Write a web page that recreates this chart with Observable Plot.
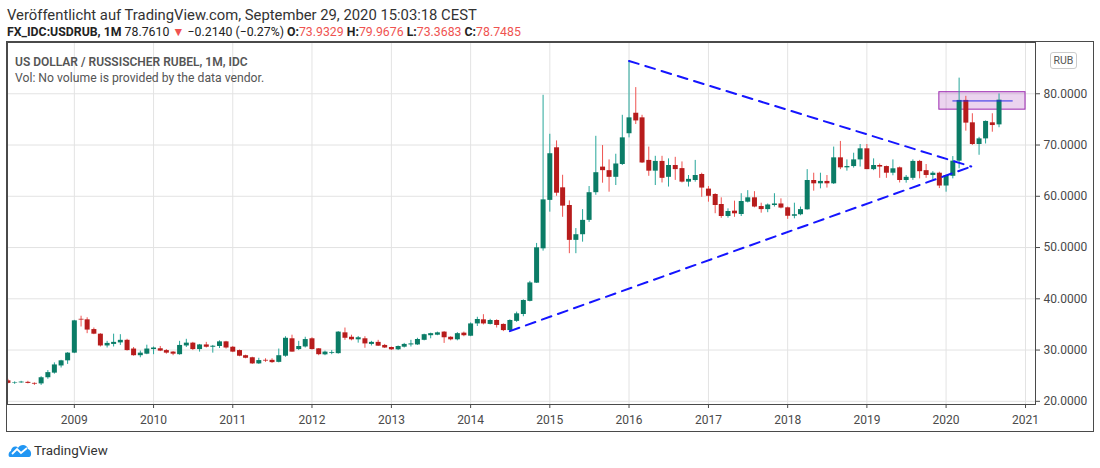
<!DOCTYPE html>
<html>
<head>
<meta charset="utf-8">
<script src="https://cdn.jsdelivr.net/npm/d3@7"></script>
<script src="https://cdn.jsdelivr.net/npm/@observablehq/plot@0.6"></script>
<style>
  body { margin: 0; background: #fff; width: 1100px; height: 468px; position: relative; overflow: hidden;
         font-family: Roboto, "Liberation Sans", sans-serif; color: #333; }
  .abs { position: absolute; white-space: nowrap; }
  #l1 { left: 7px; top: 6px; font-size: 14.8px; line-height: 18px; color: #333; }
  #l2 { left: 7px; top: 23px; font-size: 12.3px; line-height: 18px; color: #222; }
  #l2 b { font-weight: 700; }
  #l2 .r { color: #ef5350; }
  #chart { left: 6px; top: 41px; width: 1086px; height: 389px; border: 1px solid #4a4a4a; }
  #t1 { left: 15px; top: 54px; font-size: 12px; line-height: 16px; color: #555; font-weight: 600; }
  #t2 { left: 15px; top: 70px; font-size: 12.2px; line-height: 16px; color: #555; }
  #rub { left: 1050px; top: 52px; width: 25px; height: 15px; border: 1px solid #ccc; border-radius: 3px;
         font-size: 10.5px; line-height: 15px; text-align: center; color: #555; background: #fff; }
  #logo { left: 8px; top: 440px; height: 20px; display: flex; align-items: center; gap: 2px; }
  #logo span { font-size: 13.4px; color: #333; }
</style>
</head>
<body>
<div id="l1" class="abs">Veröffentlicht auf TradingView.com, September 29, 2020 15:03:18 CEST</div>
<div id="l2" class="abs"><b>FX_IDC:USDRUB, 1M</b> 78.7610 <span class="r">▼</span> −0.2140 (−0.27%) <b>O:</b><span class="r">73.9329</span> <b>H:</b><span class="r">79.9676</span> <b>L:</b><span class="r">73.3683</span> <b>C:</b><span class="r">78.7485</span></div>
<div id="chart" class="abs"></div>
<div id="t1" class="abs">US DOLLAR / RUSSISCHER RUBEL, 1M, IDC</div>
<div id="t2" class="abs">Vol: No volume is provided by the data vendor.</div>
<div id="rub" class="abs">RUB</div>
<div id="logo" class="abs">
  <svg width="24" height="16" viewBox="0 0 24 16">
    <path d="M2 15 C0 15 0 10 3 9 C3 5 8 3 10 6 C12 2 19 2 20 7 C24 8 24 15 21 15 Z" fill="#2196f3"/>
    <path d="M4 12 L9 7 L13 11 L19 6" stroke="#fff" stroke-width="1.8" fill="none"/>
  </svg>
  <span>TradingView</span>
</div>
<script>
// monthly candles, first bar = March 2008
const firstMonth = "2008-03-01";

const open = [
  24.0, 23.5, 23.6, 23.7, 23.5, 23.4, 24.6, 25.5, 26.9, 27.9,
  29.4, 36.0, 35.9, 34.0, 33.1, 30.8, 31.1, 31.4, 31.9, 30.2, 28.9, 29.2,
  30.1, 30.25, 29.9, 29.6, 29.1, 30.8, 31.35, 30.1, 31.0, 30.55, 30.7, 31.6,
  30.55, 29.9, 28.9, 28.5, 27.3, 28.0, 28.0, 27.6, 28.8, 32.2, 30.1, 30.6,
  32.2, 30.24, 29.07, 29.35, 29.3, 33.36, 32.5, 32.0, 32.2, 31.1, 31.5, 30.9,
  30.5, 30.05, 30.56, 31.0, 31.0, 31.9, 32.8, 32.9, 33.5, 32.5, 32.0, 33.3,
  32.7, 35.1, 35.9, 35.0, 35.77, 35.0, 33.8, 35.6, 36.94, 39.5, 43.05, 49.75,
  59.2, 69.46, 61.65, 58.2, 51.4, 52.5, 55.3, 60.7, 65.69, 65.0, 63.7, 66.2,
  72.2, 76.2, 75.3, 67.0, 64.9, 66.8, 63.7, 66.0, 65.4, 62.76, 63.08, 64.25,
  61.4, 60.35, 58.4, 56.06, 57.1, 56.45, 58.85, 59.7, 58.0, 57.4, 58.2, 58.5,
  57.75, 56.1, 56.4, 57.36, 63.08, 62.43, 62.9, 62.43, 67.5, 65.55, 65.8, 67.1,
  69.26, 65.2, 66.0, 65.8, 64.5, 65.55, 63.08, 63.5, 66.8, 65.0, 64.06, 64.5,
  62.0, 63.9, 66.85, 78.7, 74.33, 70.1, 71.2, 74.33, 73.93
];
const high = [
  24.3, 23.8, 23.9, 23.9, 23.6, 24.8, 26.0, 27.5, 28.0, 29.5,
  35.8, 36.6, 36.3, 34.3, 33.2, 31.7, 33.1, 33.0, 32.1, 30.5, 29.8, 30.95,
  30.6, 30.7, 30.1, 29.7, 31.7, 32.1, 31.5, 31.1, 31.5, 30.9, 31.8, 31.7,
  30.7, 30.0, 29.0, 28.6, 28.4, 28.3, 28.3, 30.2, 32.6, 32.9, 31.7, 32.5,
  32.4, 30.3, 29.8, 29.9, 33.6, 34.3, 32.9, 32.65, 32.6, 31.7, 31.9, 31.1,
  30.6, 30.8, 31.3, 31.9, 32.3, 33.1, 33.3, 33.5, 33.6, 32.6, 33.4, 33.5,
  35.3, 36.4, 36.9, 36.0, 35.9, 35.1, 35.9, 37.4, 39.8, 43.4, 50.8, 79.7,
  72.1, 70.8, 64.1, 59.1, 53.7, 57.4, 61.9, 71.7, 69.9, 67.1, 68.2, 75.8,
  86.4, 81.2, 75.8, 69.6, 67.8, 67.8, 67.3, 67.6, 66.7, 64.05, 67.0, 64.5,
  61.9, 60.5, 59.7, 57.55, 59.05, 60.5, 61.1, 60.9, 58.65, 58.5, 60.5, 59.5,
  57.9, 58.65, 57.9, 65.2, 64.5, 64.5, 64.05, 69.6, 70.7, 67.1, 68.4, 70.1,
  70.1, 67.3, 66.3, 65.9, 67.1, 65.7, 64.05, 67.1, 67.0, 66.2, 64.8, 64.7,
  64.1, 67.75, 83.05, 79.5, 76.1, 71.5, 74.7, 76.1, 79.97
];
const low = [
  23.4, 23.3, 23.5, 23.4, 23.1, 23.1, 24.3, 25.3, 26.5, 27.2,
  29.3, 34.5, 33.2, 33.0, 30.6, 30.4, 30.6, 30.9, 29.8, 28.8, 28.5, 29.1,
  29.1, 29.7, 29.2, 28.9, 29.0, 30.5, 29.9, 29.6, 30.4, 29.4, 30.3, 30.2,
  29.5, 28.7, 28.3, 27.2, 27.2, 27.6, 27.4, 27.5, 28.6, 29.6, 29.9, 30.4,
  30.0, 28.9, 28.9, 29.1, 29.2, 31.9, 31.8, 31.35, 30.35, 30.8, 30.7, 30.3,
  29.9, 29.9, 30.4, 30.6, 30.9, 31.8, 32.2, 32.8, 31.3, 31.8, 31.8, 32.6,
  32.6, 34.6, 34.9, 34.9, 34.3, 33.6, 33.5, 35.4, 36.5, 39.4, 43.0, 49.3,
  56.9, 60.0, 55.9, 48.8, 48.8, 51.05, 54.9, 60.2, 62.55, 60.8, 62.1, 66.0,
  71.4, 74.0, 66.4, 63.9, 62.1, 62.6, 61.8, 63.1, 62.6, 61.8, 62.75, 59.8,
  58.85, 56.6, 55.7, 55.73, 55.9, 56.05, 58.7, 57.75, 56.7, 56.8, 57.9, 57.55,
  55.5, 55.6, 56.2, 57.3, 61.0, 61.45, 61.6, 62.3, 65.2, 64.9, 65.5, 65.7,
  65.2, 65.0, 63.5, 63.5, 64.0, 62.6, 62.56, 63.1, 63.4, 63.5, 63.2, 61.5,
  60.8, 63.4, 65.36, 72.7, 69.9, 68.0, 70.2, 72.5, 73.37
];
const close = [
  23.5, 23.6, 23.75, 23.5, 23.35, 24.6, 25.6, 27.1, 27.9, 29.4,
  35.7, 35.85, 33.9, 33.1, 30.8, 31.3, 31.5, 31.9, 29.9, 28.9, 29.4, 30.2,
  30.4, 29.8, 29.4, 29.2, 30.9, 31.35, 30.1, 31.0, 30.55, 30.75, 31.6, 30.4,
  29.6, 28.8, 28.4, 27.3, 27.95, 27.85, 27.55, 28.9, 32.3, 29.6, 30.7, 32.05,
  30.1, 29.1, 29.6, 29.5, 33.5, 32.3, 32.0, 32.4, 31.2, 31.5, 30.76, 30.4,
  30.05, 30.7, 31.1, 31.2, 32.06, 33.0, 33.2, 33.36, 32.4, 32.0, 33.2, 32.8,
  35.1, 35.96, 35.1, 35.77, 34.8, 33.8, 35.77, 37.07, 39.67, 43.1, 49.95, 59.3,
  68.3, 60.6, 58.08, 51.4, 52.5, 55.3, 60.7, 64.6, 65.0, 63.7, 66.3, 71.4,
  75.3, 74.7, 66.5, 64.9, 66.8, 63.5, 66.0, 65.2, 62.76, 63.3, 64.06, 61.6,
  60.0, 58.2, 56.06, 57.03, 56.58, 58.98, 59.7, 57.9, 57.4, 58.3, 58.5, 57.7,
  56.1, 56.4, 57.4, 63.08, 62.43, 62.9, 62.43, 67.5, 65.55, 65.8, 67.1, 69.26,
  65.2, 66.0, 65.7, 64.5, 65.36, 63.08, 63.7, 66.8, 64.8, 64.06, 64.5, 62.0,
  64.06, 66.85, 78.7, 74.27, 70.1, 71.2, 74.6, 73.8, 78.75
];

// price axis
const priceTicks = [20, 30, 40, 50, 60, 70, 80];

// drawings on the chart
const triangleUpper = [["2016-01-01", 86.4], ["2020-04-26", 65.8]];
const triangleLower = [["2014-07-01", 33.7], ["2020-04-26", 65.8]];
const boxX = ["2019-12-01", "2021-01-01"];
const boxY = [76.9, 80.3];
const levelX = ["2020-02-01", "2020-11-01"];
const levelY = 78.6;

const start = new Date(firstMonth);
let candles = close.map((c, i) => ({
  date: d3.utcMonth.offset(start, i),
  open: open[i], high: high[i], low: low[i], close: c
}));
let up = d => d.close >= d.open;
let down = d => d.close < d.open;
let pts = arr => arr.map(([d, v]) => ({date: new Date(d), value: v}));

let chart = Plot.plot({
  width: 1086,
  height: 389,
  marginLeft: 0,
  marginRight: 58,
  marginTop: 0,
  marginBottom: 27,
  style: {fontFamily: "Roboto, sans-serif", fontSize: "12px", color: "#4a4a4a", background: "transparent"},
  x: {type: "utc", domain: [new Date("2008-02-28"), new Date("2021-02-16")]},
  y: {domain: [19.38, 90.0]},
  marks: [
    Plot.gridX({ticks: d3.utcYear, stroke: "#e3e3e3", strokeOpacity: 1}),
    Plot.gridY(priceTicks, {stroke: "#e3e3e3", strokeOpacity: 1}),
    Plot.rect([0], {x1: () => new Date(boxX[0]), x2: () => new Date(boxX[1]), y1: () => boxY[0], y2: () => boxY[1],
      fill: "#9c27b0", fillOpacity: 0.2, stroke: "#9c27b0", strokeWidth: 1}),
    // wicks
    Plot.ruleX(candles, {filter: up, x: "date", y1: "low", y2: "high", stroke: "#26a69a", strokeWidth: 1, clip: true}),
    Plot.ruleX(candles, {filter: down, x: "date", y1: "low", y2: "high", stroke: "#ef5350", strokeWidth: 1, clip: true}),
    // bodies
    Plot.ruleX(candles, {filter: up, x: "date", y1: "open", y2: "close", stroke: "#0b7c66", strokeWidth: 5, clip: true}),
    Plot.ruleX(candles, {filter: down, x: "date", y1: "open", y2: "close", stroke: "#b71c1c", strokeWidth: 5, clip: true}),
    Plot.line(pts(triangleUpper), {x: "date", y: "value", stroke: "#1515ff", strokeWidth: 2, strokeDasharray: "10,7"}),
    Plot.line(pts(triangleLower), {x: "date", y: "value", stroke: "#1515ff", strokeWidth: 2, strokeDasharray: "10,7"}),
    Plot.line(levelX.map(d => ({date: new Date(d), value: levelY})), {x: "date", y: "value", stroke: "#2a2ae8", strokeWidth: 1}),
    Plot.axisX({ticks: d3.utcYear, tickFormat: "%Y", tickSize: 4, tickPadding: 7, label: null, stroke: "#4a4a4a"}),
    Plot.axisY(priceTicks, {anchor: "right", tickFormat: d3.format(".4f"), tickSize: 4, tickPadding: 4, label: null, stroke: "#4a4a4a"}),
    Plot.frame({stroke: "#4a4a4a"})
  ]
});

d3.select('#chart').append(() => chart);
</script>
</body>
</html>
